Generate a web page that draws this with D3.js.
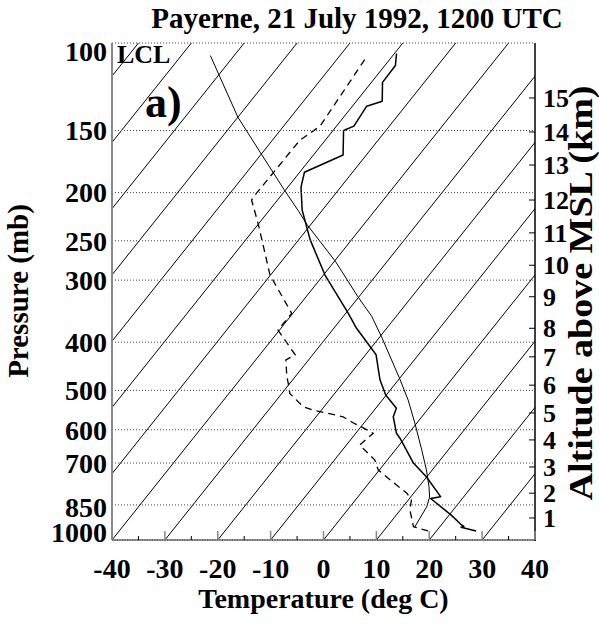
<!DOCTYPE html>
<html><head><meta charset="utf-8">
<script src="https://cdn.jsdelivr.net/npm/d3@7"></script>
<style>body{margin:0;background:#fff}svg{display:block}</style>
</head><body>
<svg id="c" width="599" height="624"></svg>
<script>
// ---- data ----
const title = "Payerne, 21 July 1992, 1200 UTC";
const pressureTicks = [100,150,200,250,300,400,500,600,700,850,1000];
const gridPressures = [150,200,250,300,400,500,600,700,850];
const tempTicks = [-40,-30,-20,-10,0,10,20,30,40];
const altKm = [1,2,3,4,5,6,7,8,9,10,11,12,13,14,15];
const altPressure = [903,805,713,629,555,488,428,375,324,280,241,207,176,151,129];
// temperature sounding (thick solid): pressure (mb), temperature (deg C)
const tempP = [105,111,120,131,134,147,150,168,182,195,217,249,293,350,375,408,424,476,511,543,565,610,624,699,746,818,825,891,930,939,943,959];
const tempT = [-59.6,-58.0,-57.9,-55.1,-57.3,-56.7,-58.0,-54.4,-59.1,-57.5,-53.8,-47.8,-39.7,-29.5,-25.7,-20.4,-18.0,-13.5,-10.1,-6.1,-5.4,-2.3,-0.9,5.3,9.9,15.6,14.0,20.4,23.6,24.5,24.1,27.5];
// dewpoint (dashed)
const dewP = [108,147,157,201,207,232,293,350,378,424,434,469,484,507,539,548,555,565,581,592,610,644,690,723,775,805,831,870,940,959];
const dewT = [-64.7,-63.1,-64.8,-65.0,-64.9,-59.9,-50.1,-40.2,-40.3,-33.3,-34.3,-31.6,-30.3,-28.5,-24.0,-21.6,-18.6,-14.9,-12.1,-9.9,-6.7,-7.5,-2.4,-0.2,5.5,8.7,10.6,11.8,15.0,18.4];
// thin curve
const thinP = [106,141,167,198,217,232,275,324,355,390,473,523,584,659,723,781,820,857,942];
const thinT = [-94.5,-80.0,-70.1,-60.1,-54.6,-50.7,-39.8,-30.2,-24.6,-19.7,-10.0,-5.1,-0.2,5.0,8.9,11.9,13.6,14.5,15.3];
const isotherms = d3.range(-120, 50, 10);

// ---- layout ----
const L=112, R=535, T=43, B=540, SKEW=75;
const FONT = "'Liberation Serif','Times New Roman',serif";
const svg = d3.select("#c");
const x = d3.scaleLinear().domain([-40,40]).range([L,R]);
const y = d3.scaleLog().domain([1000,100]).range([B,T]);
const sx = (t,p) => x(t + SKEW*Math.log10(1000/p));

svg.append("clipPath").attr("id","clip").append("rect")
  .attr("x",L).attr("y",T).attr("width",R-L).attr("height",B-T);
const plot = svg.append("g").attr("clip-path","url(#clip)");

// isotherms
plot.selectAll("line.iso").data(isotherms).join("line")
  .attr("x1",d=>sx(d,1000)).attr("y1",y(1000))
  .attr("x2",d=>sx(d,100)).attr("y2",y(100))
  .attr("stroke","#000").attr("stroke-width",1);

// pressure grid
svg.selectAll("line.grid").data(gridPressures.concat([100])).join("line")
  .attr("x1",L).attr("x2",R).attr("y1",d=>y(d)).attr("y2",d=>y(d))
  .attr("stroke","#444").attr("stroke-width",1).attr("stroke-dasharray","1,2");

const mk = (P,Tv) => d3.line().x(i=>sx(Tv[i],P[i])).y(i=>y(P[i]))(d3.range(P.length));
plot.append("path").attr("d",mk(thinP,thinT)).attr("fill","none").attr("stroke","#000").attr("stroke-width",1);
plot.append("path").attr("d",mk(dewP,dewT)).attr("fill","none").attr("stroke","#000").attr("stroke-width",1.3).attr("stroke-dasharray","7,5");
plot.append("path").attr("d",mk(tempP,tempT)).attr("fill","none").attr("stroke","#000").attr("stroke-width",1.5).attr("stroke-linejoin","round");

// frame
svg.append("line").attr("x1",L).attr("x2",L).attr("y1",T).attr("y2",B).attr("stroke","#888").attr("stroke-width",2);
svg.append("line").attr("x1",L).attr("x2",R+1).attr("y1",B).attr("y2",B).attr("stroke","#999").attr("stroke-width",2);
svg.append("line").attr("x1",L).attr("x2",R+1).attr("y1",B).attr("y2",B).attr("stroke","#333").attr("stroke-width",1).attr("stroke-dasharray","1,1.5");
svg.append("line").attr("x1",R).attr("x2",R).attr("y1",T).attr("y2",B+1).attr("stroke","#000").attr("stroke-width",1.5);

// bottom ticks
const minor = d3.range(-35,40,10);
svg.selectAll("line.tmaj").data(tempTicks).join("line")
  .attr("x1",d=>x(d)).attr("x2",d=>x(d)).attr("y1",B).attr("y2",B-9).attr("stroke","#888").attr("stroke-width",1.5);
svg.selectAll("line.tmin").data(minor).join("line")
  .attr("x1",d=>x(d)).attr("x2",d=>x(d)).attr("y1",B).attr("y2",B-4).attr("stroke","#000").attr("stroke-width",1);
// right ticks
svg.selectAll("line.alt").data(altPressure).join("line")
  .attr("x1",R-6).attr("x2",R).attr("y1",d=>y(d)).attr("y2",d=>y(d)).attr("stroke","#000").attr("stroke-width",1);

const txt = (s,size) => svg.append("text").text(s).attr("font-family",FONT).attr("font-weight","bold").attr("font-size",size).attr("fill","#000");

// tick labels
const pLabelY = {100:51, 850:507, 1000:532};
svg.selectAll("text.pl").data(pressureTicks).join("text")
  .text(d=>d).attr("x",107).attr("y",d=> (pLabelY[d]!==undefined?pLabelY[d]:y(d)) )
  .attr("dy","0.35em").attr("text-anchor","end")
  .attr("font-family",FONT).attr("font-weight","bold").attr("font-size",28);
svg.selectAll("text.tl").data(tempTicks).join("text")
  .text(d=>d).attr("x",d=>x(d)).attr("y",578).attr("text-anchor","middle")
  .attr("font-family",FONT).attr("font-weight","bold").attr("font-size",28);
svg.selectAll("text.al").data(altKm).join("text")
  .text(d=>d).attr("x",543).attr("y",(d,i)=>y(altPressure[i])).attr("dy","0.35em")
  .attr("font-family",FONT).attr("font-weight","bold").attr("font-size",26);

// titles
txt(title,29).attr("x",357).attr("y",28).attr("text-anchor","middle");
txt("Temperature (deg C)",28).attr("x",(L+R)/2).attr("y",608).attr("text-anchor","middle");
txt("Pressure (mb)",29).attr("text-anchor","middle").attr("transform","translate(28,291) rotate(-90)");
txt("Altitude above MSL (km)",33).attr("text-anchor","middle")
  .attr("textLength",415).attr("lengthAdjust","spacingAndGlyphs")
  .attr("transform","translate(592,293) rotate(-90)");
txt("LCL",26).attr("x",117).attr("y",63);
txt("a)",44).attr("x",145).attr("y",117);
</script>
</body></html>
